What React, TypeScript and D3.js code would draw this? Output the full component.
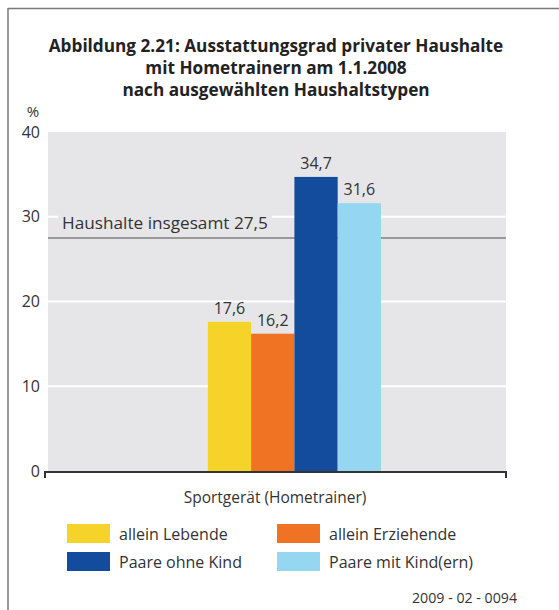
import React from "react";
import * as d3 from "d3";

const title = [
  "Abbildung 2.21: Ausstattungsgrad privater Haushalte",
  "mit Hometrainern am 1.1.2008",
  "nach ausgewählten Haushaltstypen",
];
const category = "Sportgerät (Hometrainer)";
const series = ["allein Lebende", "allein Erziehende", "Paare ohne Kind", "Paare mit Kind(ern)"];
const values = [17.6, 16.2, 34.7, 31.6];
const colors = ["#F5D329", "#F07323", "#134B9D", "#95D6F0"];
const yTicks = [0, 10, 20, 30, 40];
const totalValue = 27.5;
const totalLabel = "Haushalte insgesamt 27,5";
const sourceCode = "2009 - 02 - 0094";

const W = 559;
const H = 610;
const font = "'Open Sans', 'Noto Sans', sans-serif";
const fmt = (v: number) => v.toFixed(1).replace(".", ",");

export default function App() {
  const plot = { left: 48, right: 506, top: 132, bottom: 471 };

  const y = d3.scaleLinear().domain([0, 40]).range([plot.bottom, plot.top]);
  // where the bar group sits inside the plot (relative to its width)
  const rel = d3.scaleLinear().domain([0, 1]).range([plot.left, plot.right]);
  const x = d3.scaleBand<string>().domain(series).range([rel(0.349), rel(0.727)]).padding(0);

  return (
    <svg width={W} height={H} style={{ position: "absolute", left: 0, top: 0, fontFamily: font }}>
      <rect width={W} height={H} fill="#fff" />
      {/* frame */}
      <line x1={8} x2={W} y1={8.5} y2={8.5} stroke="#7a7a7a" strokeWidth={1.5} />
      <line x1={8} x2={8} y1={8} y2={H} stroke="#7a7a7a" strokeWidth={1.5} />

      {/* title */}
      {title.map((t, i) => (
        <text key={i} x={276} y={52 + i * 22} textAnchor="middle" fontSize={17.2} fontWeight="bold" fill="#222">
          {t}
        </text>
      ))}

      {/* plot background */}
      <rect x={plot.left} y={plot.top} width={plot.right - plot.left} height={plot.bottom - plot.top} fill="#E6E6E8" />
      {yTicks.filter((t) => t > 0 && t < 40).map((t) => (
        <line key={t} x1={plot.left} x2={plot.right} y1={y(t)} y2={y(t)} stroke="#fff" strokeWidth={2} />
      ))}

      {/* y tick labels */}
      <text x={33} y={117} textAnchor="middle" fontSize={15} fill="#333">%</text>
      {yTicks.map((t) => (
        <text key={t} x={40} y={y(t)} dy="0.35em" textAnchor="end" fontSize={16} fill="#333">
          {t}
        </text>
      ))}

      {/* total line */}
      <line x1={plot.left} x2={plot.right} y1={y(totalValue)} y2={y(totalValue)} stroke="#999" strokeWidth={2} />
      <rect x={58} y={y(30) - 3} width={214} height={8} fill="#E6E6E8" />
      <text x={62} y={y(totalValue) - 9} fontSize={17.2} fill="#333">{totalLabel}</text>

      {/* bars */}
      {series.map((s, i) => (
        <g key={s}>
          <rect x={x(s)} y={y(values[i])} width={x.bandwidth()} height={y(0) - y(values[i])} fill={colors[i]} />
          <text x={(x(s) as number) + x.bandwidth() / 2} y={y(values[i]) - 8} textAnchor="middle" fontSize={16} fill="#333">
            {fmt(values[i])}
          </text>
        </g>
      ))}

      {/* x axis */}
      <path
        d={`M${plot.left - 3},${plot.bottom + 7}V${plot.bottom + 1}H${plot.right}V${plot.bottom + 7}`}
        fill="none"
        stroke="#333"
        strokeWidth={2}
      />
      <text x={275} y={503} textAnchor="middle" fontSize={15.5} fill="#333">{category}</text>

      {/* legend */}
      {series.map((s, i) => {
        const col = i % 2;
        const row = Math.floor(i / 2);
        const lx = 67 + col * 210;
        const ly = 524 + row * 28;
        return (
          <g key={s}>
            <rect x={lx} y={ly} width={43} height={19} fill={colors[i]} />
            <text x={lx + 52} y={ly + 10} dy="0.35em" fontSize={16} fill="#333">{s}</text>
          </g>
        );
      })}

      <text x={517} y={603} textAnchor="end" fontSize={14.2} fill="#333">{sourceCode}</text>
    </svg>
  );
}
